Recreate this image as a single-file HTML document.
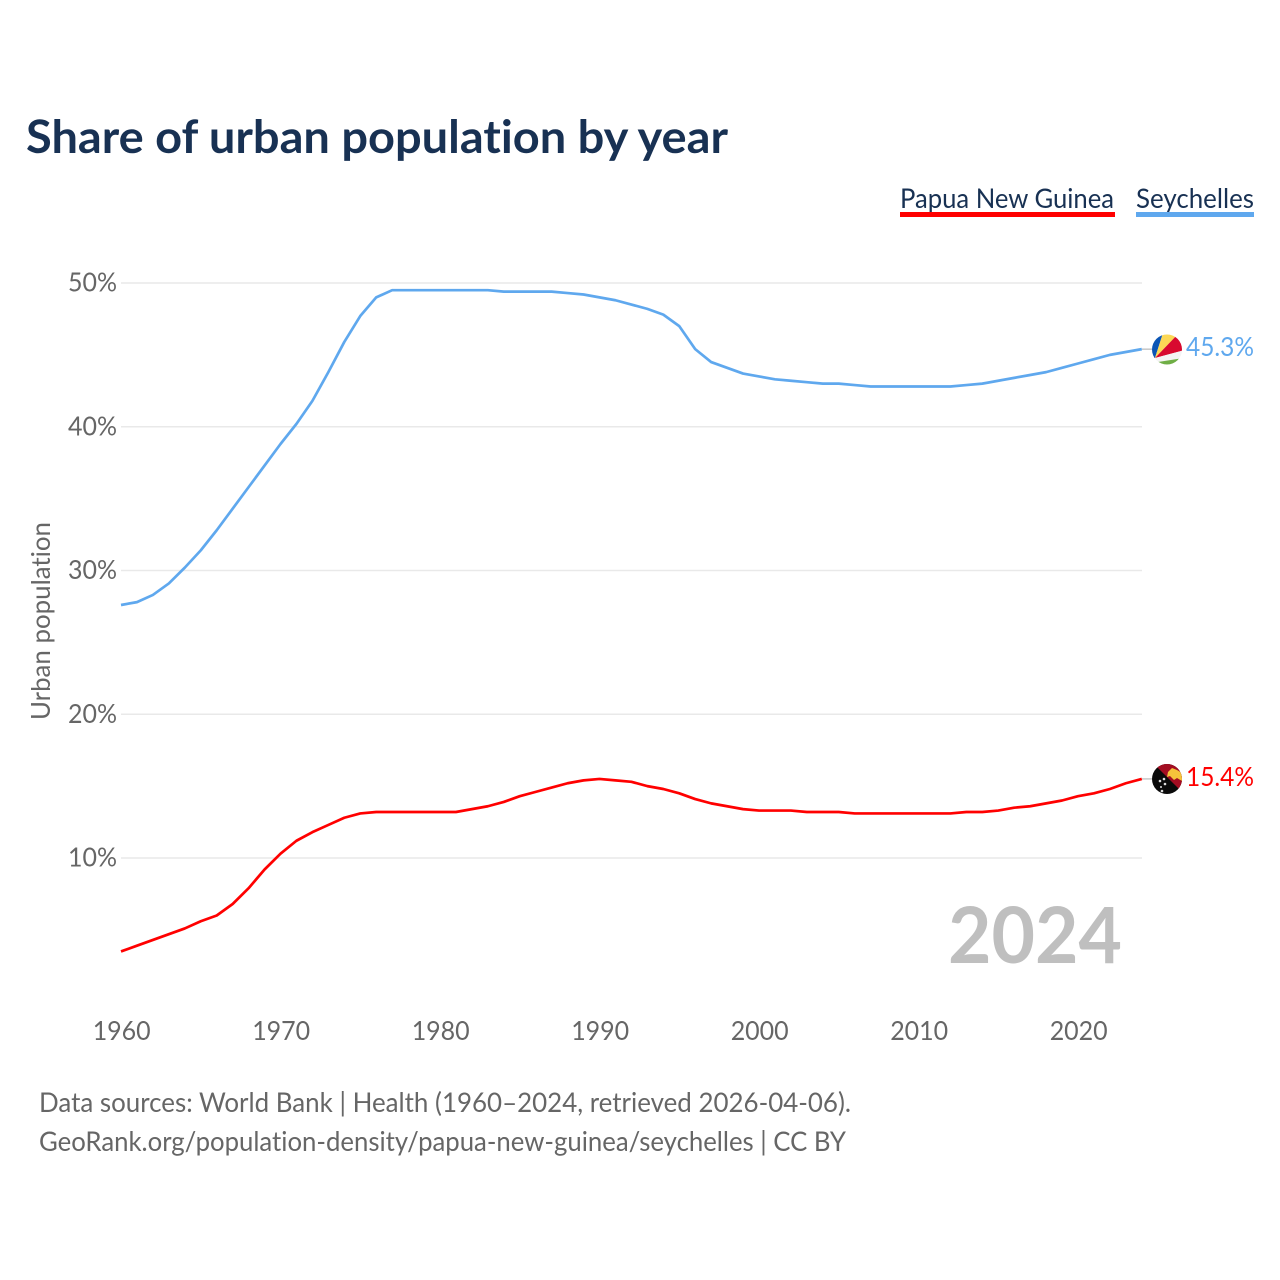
<!DOCTYPE html>
<html lang="en">
<head>
<meta charset="utf-8">
<title>Share of urban population by year</title>
<style>
html,body{margin:0;padding:0;background:#fff}
svg{display:block}
text{font-family:"Lato","Carlito","Liberation Sans",sans-serif;font-variant-ligatures:none}
</style>
</head>
<body>
<svg id="chart" width="1280" height="1280" viewBox="0 0 1280 1280" xmlns="http://www.w3.org/2000/svg">
  <defs>
    <clipPath id="clip-sc"><circle cx="1167" cy="349.5" r="15"/></clipPath>
    <clipPath id="clip-pg"><circle cx="1167" cy="779" r="15"/></clipPath>
  </defs>
  <rect width="1280" height="1280" fill="#fff"/>
  <text x="26" y="153" font-size="46" font-weight="700" fill="#183153" textLength="702" lengthAdjust="spacingAndGlyphs">Share of urban population by year</text>

  <g>
    <text x="900" y="208" font-size="27" fill="#183153" textLength="214" lengthAdjust="spacingAndGlyphs">Papua New Guinea</text>
    <rect x="900" y="212" width="215" height="5" fill="#ff0000"/>
  </g>
  <g>
    <text x="1136" y="208" font-size="27" fill="#183153" textLength="118" lengthAdjust="spacingAndGlyphs">Seychelles</text>
    <rect x="1136" y="212" width="118" height="5" fill="#5fa8ee"/>
  </g>

  <g id="grid"></g>
  <g id="y-axis"></g>
  <g id="x-axis"></g>
  <text transform="translate(50,621) rotate(-90)" text-anchor="middle" font-size="26" fill="#666" textLength="198" lengthAdjust="spacingAndGlyphs">Urban population</text>

  <text x="948" y="963" font-size="78" font-weight="700" fill="#bfbfbf" textLength="174" lengthAdjust="spacingAndGlyphs">2024</text>

  <g id="series"></g>

  <g clip-path="url(#clip-sc)">
    <rect x="1152" y="334" width="30" height="31" fill="#f4f4f4"/>
    <polygon points="1155,358 1150,358 1150,333 1163,333" fill="#0b55b5"/>
    <polygon points="1155,358 1163,333 1179,333" fill="#fcd856"/>
    <polygon points="1155,358 1179,333 1185,350" fill="#d8092f"/>
    <polygon points="1155,358 1185,350 1185,357" fill="#f4f4f4"/>
    <polygon points="1158,362 1184,358 1184,366 1158,366" fill="#6fae45"/>
  </g>
  <g clip-path="url(#clip-pg)">
    <rect x="1152" y="764" width="30" height="30" fill="#0a0a0a"/>
    <polygon points="1154,764 1184,764 1184,794" fill="#a30d22"/>
    <polygon points="1168,772 1172,768 1177,770 1182,773 1182,781 1177,778 1174,780 1170,776 1167,777" fill="#f5c33b"/>
    <circle cx="1160" cy="781" r="1.3" fill="#ddd"/>
    <circle cx="1164" cy="779" r="1.3" fill="#ddd"/>
    <circle cx="1165" cy="784" r="1.3" fill="#ddd"/>
    <circle cx="1161" cy="787" r="1" fill="#ddd"/>
    <circle cx="1162" cy="791" r="1.3" fill="#ddd"/>
  </g>

  <text x="1186" y="356" font-size="26" fill="#5fa8ee" textLength="68" lengthAdjust="spacingAndGlyphs">45.3%</text>
  <text x="1186" y="786" font-size="26" fill="#ff0000" textLength="68" lengthAdjust="spacingAndGlyphs">15.4%</text>

  <text x="39" y="1112" font-size="27" fill="#666" textLength="812" lengthAdjust="spacingAndGlyphs">Data sources: World Bank | Health (1960–2024, retrieved 2026-04-06).</text>
  <text x="39" y="1151" font-size="27" fill="#666" textLength="807" lengthAdjust="spacingAndGlyphs">GeoRank.org/population-density/papua-new-guinea/seychelles | CC BY</text>
</svg>
<script>
const startYear = 1960;
const xTicks = [1960, 1970, 1980, 1990, 2000, 2010, 2020];
const yTicks = [10, 20, 30, 40, 50];
const seychellesValues = [27.6,27.8,28.3,29.1,30.2,31.4,32.8,34.3,35.8,37.3,38.8,40.2,41.8,43.8,45.9,47.7,49.0,49.5,49.5,49.5,49.5,49.5,49.5,49.5,49.4,49.4,49.4,49.4,49.3,49.2,49.0,48.8,48.5,48.2,47.8,47.0,45.4,44.5,44.1,43.7,43.5,43.3,43.2,43.1,43.0,43.0,42.9,42.8,42.8,42.8,42.8,42.8,42.8,42.9,43.0,43.2,43.4,43.6,43.8,44.1,44.4,44.7,45.0,45.2,45.4];
const papuaValues = [3.5,3.9,4.3,4.7,5.1,5.6,6.0,6.8,7.9,9.2,10.3,11.2,11.8,12.3,12.8,13.1,13.2,13.2,13.2,13.2,13.2,13.2,13.4,13.6,13.9,14.3,14.6,14.9,15.2,15.4,15.5,15.4,15.3,15.0,14.8,14.5,14.1,13.8,13.6,13.4,13.3,13.3,13.3,13.2,13.2,13.2,13.1,13.1,13.1,13.1,13.1,13.1,13.1,13.2,13.2,13.3,13.5,13.6,13.8,14.0,14.3,14.5,14.8,15.2,15.5];

const NS = 'http://www.w3.org/2000/svg';
function xScale(year) { return 121 + (year - 1960) * 15.95; }
function yScale(value) { return 858 - (value - 10) * 14.375; }
function make(tag, attrs, parent, content) {
  const el = document.createElementNS(NS, tag);
  for (const k in attrs) el.setAttribute(k, attrs[k]);
  if (content !== undefined) el.textContent = content;
  parent.appendChild(el);
  return el;
}
const grid = document.getElementById('grid');
const yAxis = document.getElementById('y-axis');
const xAxis = document.getElementById('x-axis');
const series = document.getElementById('series');

yTicks.forEach(function (t) {
  const line = make('line', {x1: 121, x2: 1142, y1: yScale(t), y2: yScale(t), stroke: '#e9e9e9', 'stroke-width': 1.5}, grid);
  
  
  const label = make('text', {x: 117, y: yScale(t) + 8.5, 'text-anchor': 'end', 'font-size': 26, fill: '#666', textLength: 49, lengthAdjust: 'spacingAndGlyphs'}, yAxis, t + '%');
  
  
});
xTicks.forEach(function (t) {
  const label = make('text', {x: xScale(t) + 0.7, y: 1040, 'text-anchor': 'middle', 'font-size': 26, fill: '#666', textLength: 58, lengthAdjust: 'spacingAndGlyphs'}, xAxis, String(t));
  
  
});
function pathFor(values) {
  return values.map(function (v, i) {
    return (i ? 'L' : 'M') + xScale(startYear + i).toFixed(2) + ' ' + yScale(v).toFixed(2);
  }).join(' ');
}
const lineSc = make('path', {d: pathFor(seychellesValues), fill: 'none', stroke: '#5fa8ee', 'stroke-width': 2.7, 'stroke-linejoin': 'round'}, series);


const linePg = make('path', {d: pathFor(papuaValues), fill: 'none', stroke: '#ff0000', 'stroke-width': 2.7, 'stroke-linejoin': 'round'}, series);


const lastSc = seychellesValues[seychellesValues.length - 1];
const lastPg = papuaValues[papuaValues.length - 1];
const connSc = make('line', {x1: 1142, x2: 1152, y1: yScale(lastSc), y2: yScale(lastSc), stroke: '#aaa', 'stroke-width': 1}, series);


const connPg = make('line', {x1: 1142, x2: 1152, y1: yScale(lastPg), y2: yScale(lastPg), stroke: '#aaa', 'stroke-width': 1}, series);


</script>
</body>
</html>
